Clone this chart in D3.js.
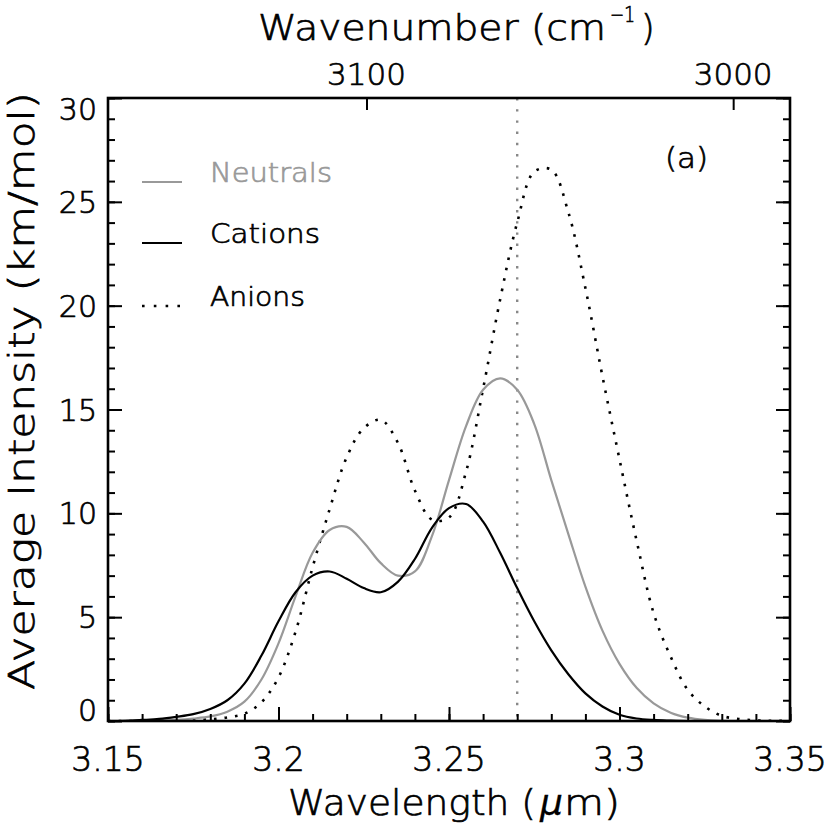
<!DOCTYPE html>
<html>
<head>
<meta charset="utf-8">
<script src="https://cdn.jsdelivr.net/npm/d3@7"></script>
<style>
  html, body { margin: 0; padding: 0; background: #fff; }
  svg { display: block; }
  text { font-family: "DejaVu Sans", "Noto Sans", sans-serif; font-weight: 200; fill: #000; stroke: #000; stroke-width: 0.7; }
</style>
</head>
<body>
<svg id="chart" width="830" height="830"></svg>
<script>
// ---------------- data ----------------
const wavelength = [3.150,3.155,3.160,3.165,3.170,3.175,3.180,3.185,3.190,3.195,
  3.200,3.205,3.210,3.215,3.220,3.225,3.230,3.235,3.240,3.245,
  3.250,3.255,3.260,3.265,3.270,3.275,3.280,3.285,3.290,3.295,
  3.300,3.305,3.310,3.315,3.320,3.325,3.330,3.335,3.340,3.345,3.350];

const neutrals = [0,0,0.01,0.03,0.06,0.12,0.22,0.45,0.93,2.0,
  3.74,6.0,8.1,9.2,9.35,8.6,7.6,7.0,7.2,8.9,
  11.6,14.2,15.95,16.5,15.95,14.3,11.6,9.0,6.47,4.35,
  2.75,1.6,0.85,0.4,0.16,0.05,0.01,0,0,0,0];

const cations = [0,0.01,0.05,0.1,0.2,0.33,0.58,1.0,1.8,3.15,
  4.8,6.2,7.0,7.2,6.85,6.4,6.2,6.7,7.8,9.3,
  10.25,10.45,9.6,8.1,6.4,4.8,3.4,2.25,1.33,0.7,
  0.3,0.12,0.05,0.02,0,0,0,0,0,0,0];

const anions = [0,0,0,0.01,0.02,0.04,0.08,0.17,0.35,0.9,
  2.1,4.3,7.4,10.2,12.7,14.1,14.5,13.4,11.1,9.7,
  9.8,12.0,16.0,20.3,24.0,26.45,26.55,24.5,20.85,16.6,
  12.6,8.7,5.2,3.1,1.5,0.7,0.25,0.1,0.03,0.01,0];

const seriesNames = ["Neutrals", "Cations", "Anions"];
const xMajorTicks = [3.15, 3.2, 3.25, 3.3, 3.35];
const xTickLabels = ["3.15", "3.2", "3.25", "3.3", "3.35"];
const yMajorTicks = [0, 5, 10, 15, 20, 25, 30];
const yTickLabels = ["0", "5", "10", "15", "20", "25", "30"];
const wavenumberTicks = [3100, 3000];
const wavenumberLabels = ["3100", "3000"];
const markerWavelength = 3.27;
const panelLabel = "(a)";

// ---------------- layout ----------------
const L = 108, R = 790, T = 98, B = 721;
const svg = d3.select("#chart");

const x = d3.scaleLinear().domain([3.15, 3.35]).range([L, R]);
const y = d3.scaleLinear().domain([0, 30]).range([B, T]);

const styles = {
  Neutrals: { color: "#999999", dash: null, width: 2.2 },
  Cations:  { color: "#000000", dash: null, width: 2.2 },
  Anions:   { color: "#000000", dash: "2.6,8", width: 2.6 }
};
const seriesData = { Neutrals: neutrals, Cations: cations, Anions: anions };

const plot = svg.append("g");
plot.append("clipPath").attr("id", "clip")
  .append("rect").attr("x", L).attr("y", T).attr("width", R - L).attr("height", B - T);

// vertical dotted marker
plot.append("line")
  .attr("x1", x(markerWavelength)).attr("x2", x(markerWavelength))
  .attr("y1", T).attr("y2", B)
  .attr("stroke", "#888").attr("stroke-width", 2.4)
  .attr("stroke-dasharray", "2.4,8.8");

// curves
const line = d3.line()
  .x((d, i) => x(wavelength[i]))
  .y(d => y(Math.max(0, d)))
  .curve(d3.curveCatmullRom.alpha(0.5));

const drawOrder = ["Anions", "Neutrals", "Cations"];
drawOrder.forEach(name => {
  const st = styles[name];
  plot.append("path")
    .datum(seriesData[name])
    .attr("clip-path", "url(#clip)")
    .attr("fill", "none")
    .attr("stroke", st.color)
    .attr("stroke-width", st.width)
    .attr("stroke-dasharray", st.dash)
    .attr("d", line);
});

// ---------------- axes (ticks inward) ----------------
const axisG = svg.append("g");
function styleAxis(g) {
  g.select(".domain").remove();
  g.selectAll(".tick line").attr("stroke", "#000").attr("stroke-width", 2);
  g.selectAll(".tick text").remove();
}
const xMinor = d3.range(3.15, 3.3501, 0.01).map(v => +v.toFixed(2));
const yMinor = d3.range(0, 31, 1);

axisG.append("g").attr("transform", `translate(0,${B})`)
  .call(d3.axisBottom(x).tickValues(xMinor).tickSizeInner(-7).tickSizeOuter(0)).call(styleAxis);
axisG.append("g").attr("transform", `translate(0,${B})`)
  .call(d3.axisBottom(x).tickValues(xMajorTicks).tickSizeInner(-14).tickSizeOuter(0)).call(styleAxis);

axisG.append("g").attr("transform", `translate(0,${T})`)
  .call(d3.axisTop(x).tickValues(wavenumberTicks.map(v => 1e4 / v)).tickSizeInner(-12).tickSizeOuter(0)).call(styleAxis);

axisG.append("g").attr("transform", `translate(${L},0)`)
  .call(d3.axisLeft(y).tickValues(yMinor).tickSizeInner(-7).tickSizeOuter(0)).call(styleAxis);
axisG.append("g").attr("transform", `translate(${L},0)`)
  .call(d3.axisLeft(y).tickValues(yMajorTicks).tickSizeInner(-14).tickSizeOuter(0)).call(styleAxis);
axisG.append("g").attr("transform", `translate(${R},0)`)
  .call(d3.axisRight(y).tickValues(yMinor).tickSizeInner(-7).tickSizeOuter(0)).call(styleAxis);
axisG.append("g").attr("transform", `translate(${R},0)`)
  .call(d3.axisRight(y).tickValues(yMajorTicks).tickSizeInner(-14).tickSizeOuter(0)).call(styleAxis);

// frame
svg.append("rect")
  .attr("x", L).attr("y", T).attr("width", R - L).attr("height", B - T)
  .attr("fill", "none").attr("stroke", "#000").attr("stroke-width", 2.6);

// ---------------- tick labels ----------------
svg.append("g").selectAll("text").data(xMajorTicks).join("text")
  .attr("x", d => x(d)).attr("y", 771)
  .attr("text-anchor", "middle").attr("font-size", 33)
  .text((d, i) => xTickLabels[i]);

svg.append("g").selectAll("text").data(yMajorTicks).join("text")
  .attr("x", 97)
  .attr("y", (d, i) => i === 0 ? B : (i === yMajorTicks.length - 1 ? T + 22 : y(d) + 11))
  .attr("text-anchor", "end").attr("font-size", 30)
  .text((d, i) => yTickLabels[i]);

svg.append("g").selectAll("text").data(wavenumberTicks).join("text")
  .attr("x", d => x(1e4 / d)).attr("y", 85)
  .attr("text-anchor", "middle").attr("font-size", 31)
  .text((d, i) => wavenumberLabels[i]);

// ---------------- axis titles ----------------
svg.append("text").attr("x", 258).attr("y", 40).attr("font-size", 35)
  .attr("textLength", 348).attr("lengthAdjust", "spacingAndGlyphs")
  .text("Wavenumber (cm");
svg.append("text").attr("x", 610).attr("y", 22).attr("font-size", 22)
  .attr("textLength", 25).attr("lengthAdjust", "spacingAndGlyphs")
  .text("−1");
svg.append("text").attr("x", 641).attr("y", 40).attr("font-size", 35).text(")");

svg.append("text").attr("x", 288).attr("y", 815).attr("font-size", 36)
  .attr("textLength", 248).attr("lengthAdjust", "spacingAndGlyphs")
  .text("Wavelength (");
svg.append("text").attr("x", 540).attr("y", 815).attr("font-size", 36)
  .attr("font-style", "italic").style("stroke-width", 0.3).text("μ");
svg.append("text").attr("x", 564).attr("y", 815).attr("font-size", 36)
  .attr("textLength", 56).attr("lengthAdjust", "spacingAndGlyphs")
  .text("m)");

svg.append("text")
  .attr("transform", "translate(34,391) rotate(-90)")
  .attr("text-anchor", "middle").attr("font-size", 35)
  .attr("textLength", 598).attr("lengthAdjust", "spacingAndGlyphs")
  .text("Average Intensity (km/mol)");

// ---------------- legend ----------------
const legendY = [182, 243, 306];
const legendW = [122, 110, 95];
const legend = svg.append("g");
seriesNames.forEach((name, i) => {
  const st = styles[name];
  legend.append("line")
    .attr("x1", 142).attr("x2", 182).attr("y1", legendY[i]).attr("y2", legendY[i])
    .attr("stroke", st.color).attr("stroke-width", st.width)
    .attr("stroke-dasharray", name === "Anions" ? "2.6,9.2" : null);
  legend.append("text")
    .attr("x", 210).attr("y", legendY[i]).attr("font-size", 27)
    .attr("textLength", legendW[i]).attr("lengthAdjust", "spacingAndGlyphs")
    .style("fill", name === "Neutrals" ? "#999999" : "#000")
    .style("stroke", name === "Neutrals" ? "#999999" : "#000")
    .text(name);
});

svg.append("text").attr("x", 665).attr("y", 168).attr("font-size", 29)
  .attr("textLength", 43).attr("lengthAdjust", "spacingAndGlyphs")
  .text(panelLabel);
</script>
</body>
</html>
